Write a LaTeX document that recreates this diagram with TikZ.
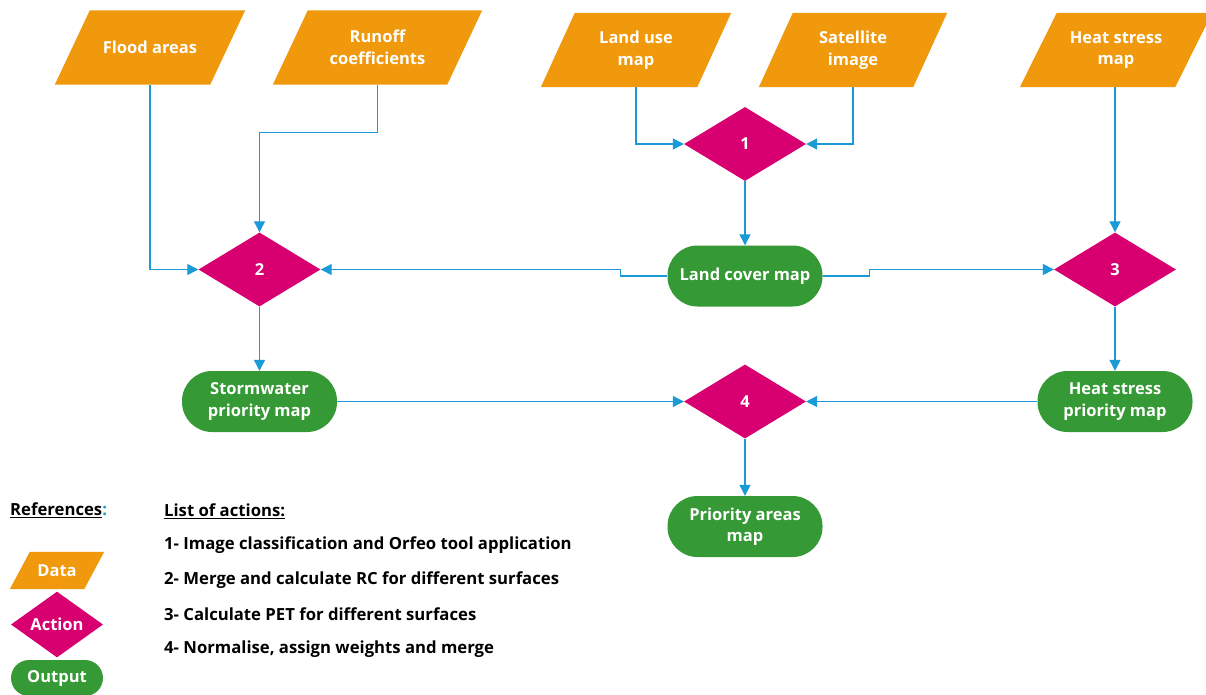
\documentclass[tikz,border=0pt]{standalone}
\usepackage{fontspec}
\setmainfont{Open Sans}
\usetikzlibrary{shapes.geometric,arrows.meta,backgrounds}
\definecolor{dorange}{HTML}{F0990D}
\definecolor{dmag}{HTML}{D80070}
\definecolor{dgreen}{HTML}{359A35}
\definecolor{dblue}{HTML}{1B9AD8}
\newcommand\lblfont{\fontsize{16.5}{21.5}\selectfont\bfseries}
\newcommand\lgdfont{\fontsize{16.7}{20}\selectfont\bfseries}
\begin{document}
\begin{tikzpicture}[x=1pt,y=-1pt,
  databox/.style={rectangle, draw=none, text=white, font=\lblfont,
    minimum height=74pt, minimum width=155pt, inner sep=0pt, align=center},
  actbox/.style={diamond, fill=dmag, draw=none, minimum width=122pt, minimum height=74pt,
    inner sep=0pt, text=white, font=\lblfont},
  outbox/.style={rectangle, rounded corners=30pt, fill=dgreen, draw=none, minimum width=155pt,
    minimum height=61pt, inner sep=0pt, text=white, font=\lblfont, align=center},
  conn/.style={draw=dblue, line width=1.2pt, -{Triangle[length=11pt,width=11pt]}},
  lgd/.style={anchor=west, font=\lgdfont, text=black, inner sep=0pt}]
\useasboundingbox (0,0) rectangle (1206,694);

% data
\node[databox] (fa) at (150,47.5) {Flood areas};
\node[databox, minimum width=174pt] (ro) at (377.5,47.5) {Runoff\\coefficients};
\node[databox, minimum width=156pt] (lu) at (636,50) {Land use\\map};
\node[databox, minimum width=154pt] (si) at (853,50) {Satellite\\image};
\node[databox, minimum width=155pt] (hs) at (1116,50) {Heat stress\\map};

% actions
\node[actbox] (d1) at (745,144) {1};
\node[actbox] (d2) at (259.5,269.5) {2};
\node[actbox] (d3) at (1115,269.5) {3};
\node[actbox] (d4) at (745,401.5) {4};

% outputs
\node[outbox] (lc) at (745,276) {Land cover map};
\node[outbox] (sw) at (259.5,401.5) {Stormwater\\priority map};
\node[outbox] (hp) at (1115,401.5) {Heat stress\\priority map};
\node[outbox] (pa) at (745,526.5) {Priority areas\\map};

% connectors
\draw[conn] (fa.south) |- (d2.west);
\draw[conn] (ro.south) -- ++(0,48) -| (d2.north);
\draw[conn] (lu.south) |- (d1.west);
\draw[conn] (si.south) |- (d1.east);
\draw[conn] (d1.south) -- (lc.north);
\draw[conn] (lc.west) -- ++(-47,0) |- (d2.east);
\draw[conn] (lc.east) -- ++(47,0) |- (d3.west);
\draw[conn] (d3.north |- hs.south) -- (d3.north);
\draw[conn] (d2.south) -- (sw.north);
\draw[conn] (d3.south) -- (hp.north);
\draw[conn] (sw.east) -- (d4.west);
\draw[conn] (hp.west) -- (d4.east);
\draw[conn] (d4.south) -- (pa.north);

% legend
\node[lgd] (refs) at (10,510) {\underline{References}\textcolor{dblue}{:}};
\node[databox, minimum width=74pt, minimum height=37pt] (ldata) at (57,570.5) {Data};
\node[actbox, minimum width=92pt, minimum height=55pt] (lact) at (57,624.5) {Action};
\node[outbox, minimum width=92pt, minimum height=36pt, rounded corners=18pt] (lout) at (57,678) {Output};

\node[lgd] (loa) at (164,511) {\underline{List of actions:}};
\node[lgd] (a1) at (164,545.5) {1- Image classification and Orfeo tool application};
\node[lgd] (a2) at (164,580) {2- Merge and calculate RC for different surfaces};
\node[lgd] (a3) at (164,614.5) {3- Calculate PET for different surfaces};
\node[lgd] (a4) at (164,649) {4- Normalise, assign weights and merge};

% parallelogram bodies of the data nodes
\begin{pgfonlayer}{background}
\fill[white] (0,0) rectangle (1206,694);
\foreach \n/\s in {fa/17.5, ro/17.5, lu/17, si/17, hs/18.5, ldata/10}
  \fill[dorange] ([xshift=-\s pt]\n.south west) -- ([xshift=-\s pt]\n.south east)
     -- ([xshift=\s pt]\n.north east) -- ([xshift=\s pt]\n.north west) -- cycle;
\end{pgfonlayer}
\end{tikzpicture}
\end{document}
